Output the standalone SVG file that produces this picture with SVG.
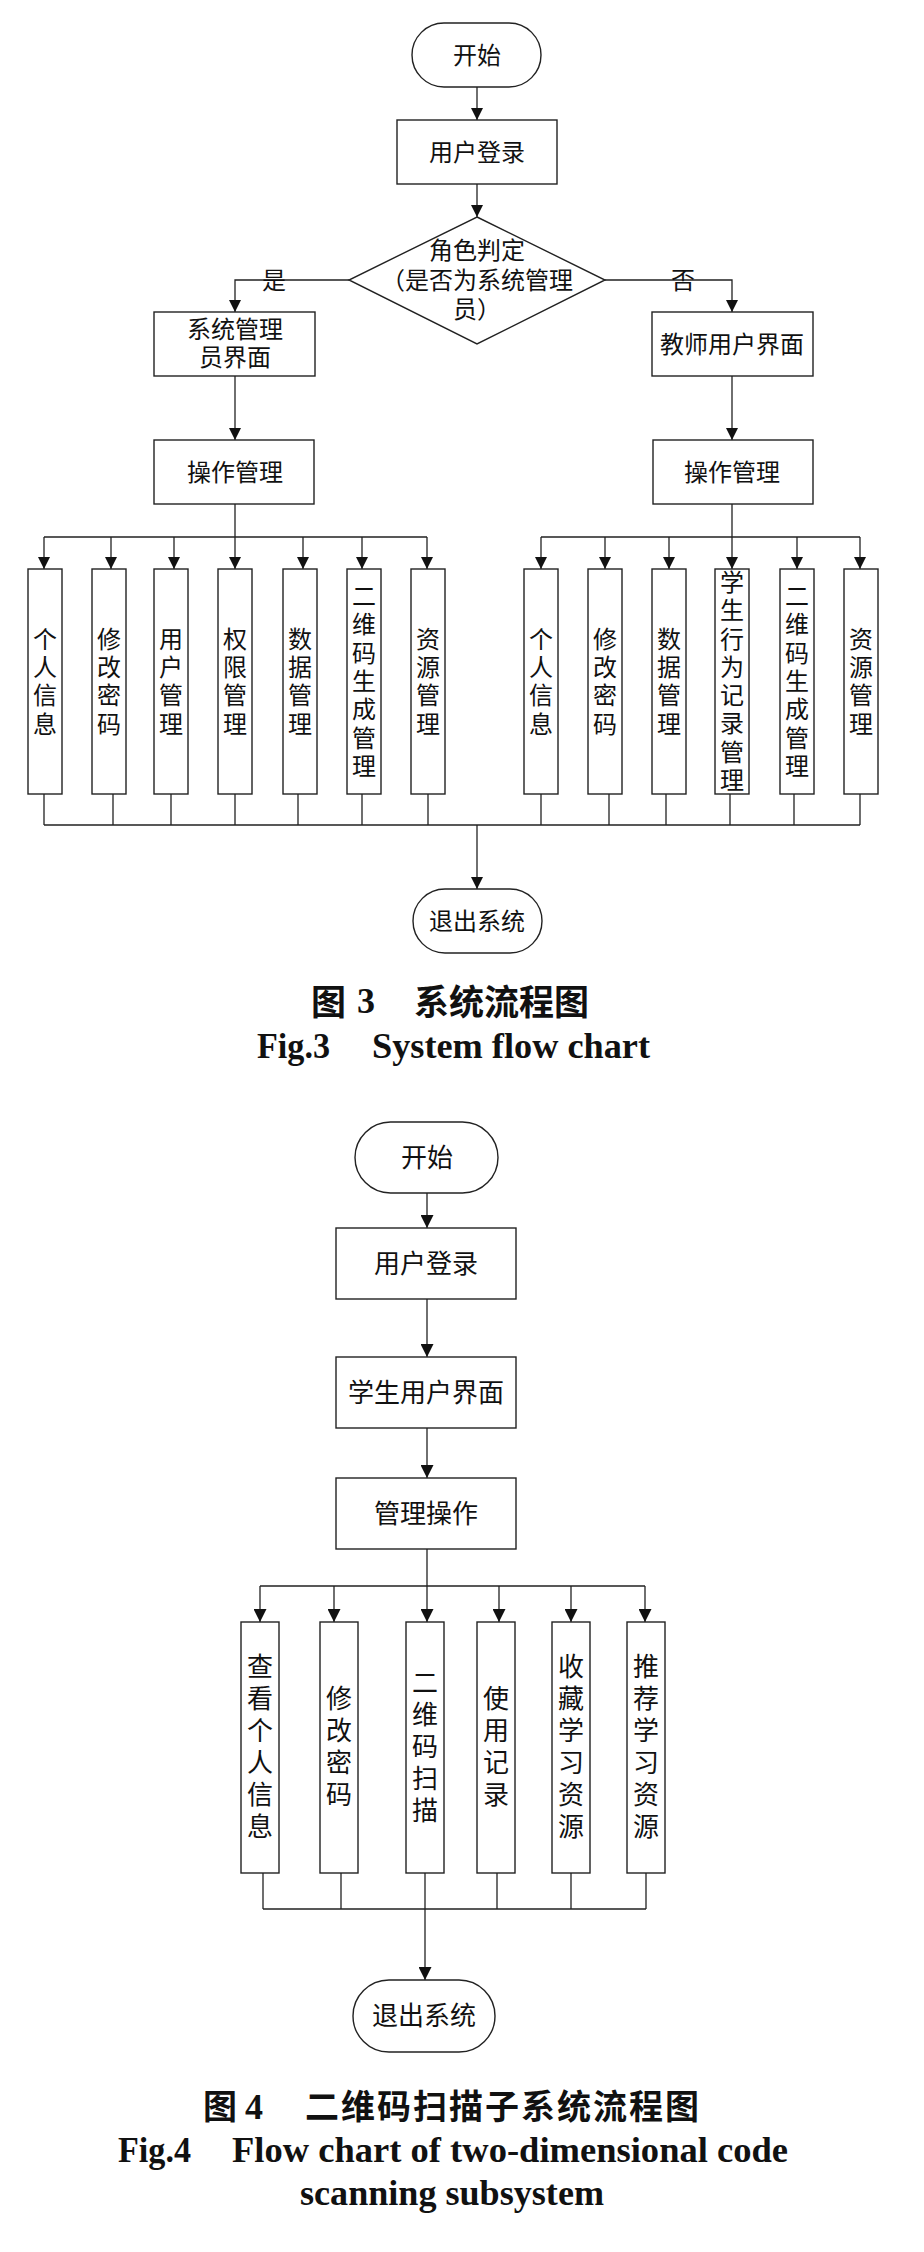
<svg xmlns="http://www.w3.org/2000/svg" width="924" height="2252" viewBox="0 0 924 2252">
<style>
.bg{fill:#ffffff}
.box{fill:#ffffff;stroke:#222222;stroke-width:1.4}
.ln{fill:none;stroke:#222222;stroke-width:1.3}
.t{font-family:'Liberation Sans','Noto Sans CJK SC',sans-serif;font-size:24px;fill:#111111;text-anchor:middle;dominant-baseline:central}
.t4{font-family:'Liberation Sans','Noto Sans CJK SC',sans-serif;font-size:26px;fill:#111111;text-anchor:middle;dominant-baseline:central}
.cap{font-family:'Liberation Sans','Noto Sans CJK SC',sans-serif;font-weight:700;fill:#111111;dominant-baseline:central}
.en{font-family:'Liberation Serif','Times New Roman',serif;font-weight:700;font-size:36px;fill:#111111}
</style>
<defs>
<marker id="arr" viewBox="0 0 12 12" markerWidth="12" markerHeight="12" refX="12" refY="6" orient="auto" markerUnits="userSpaceOnUse"><path d="M0,0 L12,6 L0,12 Z" fill="#111111"/></marker>
<marker id="arr4" viewBox="0 0 13 13" markerWidth="13" markerHeight="13" refX="13" refY="6.5" orient="auto" markerUnits="userSpaceOnUse"><path d="M0,0 L13,6.5 L0,13 Z" fill="#111111"/></marker>
</defs>
<rect class="bg" x="0" y="0" width="924" height="2252"/>

<!-- ===== Figure 3 connectors ===== -->
<g id="connectors-fig3">
<path class="ln" d="M477,87 V120" marker-end="url(#arr)"/>
<path class="ln" d="M477,184 V217" marker-end="url(#arr)"/>
<path class="ln" d="M349,280 H235 V312" marker-end="url(#arr)"/>
<path class="ln" d="M605,280 H732 V312" marker-end="url(#arr)"/>
<path class="ln" d="M235,376 V440" marker-end="url(#arr)"/>
<path class="ln" d="M732,376 V440" marker-end="url(#arr)"/>
<path class="ln" d="M235,504 V537 M44,537 H427 M732,504 V537 M541,537 H860"/>
<path class="ln" d="M44,537 V569" marker-end="url(#arr)"/>
<path class="ln" d="M111,537 V569" marker-end="url(#arr)"/>
<path class="ln" d="M174,537 V569" marker-end="url(#arr)"/>
<path class="ln" d="M235,537 V569" marker-end="url(#arr)"/>
<path class="ln" d="M303,537 V569" marker-end="url(#arr)"/>
<path class="ln" d="M362,537 V569" marker-end="url(#arr)"/>
<path class="ln" d="M427,537 V569" marker-end="url(#arr)"/>
<path class="ln" d="M541,537 V569" marker-end="url(#arr)"/>
<path class="ln" d="M605,537 V569" marker-end="url(#arr)"/>
<path class="ln" d="M669,537 V569" marker-end="url(#arr)"/>
<path class="ln" d="M732,537 V569" marker-end="url(#arr)"/>
<path class="ln" d="M797,537 V569" marker-end="url(#arr)"/>
<path class="ln" d="M860,537 V569" marker-end="url(#arr)"/>
<path class="ln" d="M44,794 V825 M113,794 V825 M171,794 V825 M235,794 V825 M298,794 V825 M362,794 V825 M428,794 V825 M541,794 V825 M609,794 V825 M666,794 V825 M730,794 V825 M794,794 V825 M860,794 V825 M44,825 H860"/>
<path class="ln" d="M477,825 V889" marker-end="url(#arr)"/>
<text class="t" x="274" y="280">是</text>
<text class="t" x="683" y="280">否</text>
</g>

<!-- ===== Figure 3 nodes ===== -->
<g id="f3-start"><rect class="box" x="412" y="23" width="129" height="64" rx="32" ry="32"/><text class="t" x="477" y="55">开始</text></g>
<g id="f3-login"><rect class="box" x="397" y="120" width="160" height="64"/><text class="t" x="477" y="152">用户登录</text></g>
<g id="f3-role"><polygon class="box" points="477,217 605,280 477,344 349,280"/><text class="t" x="477" y="250">角色判定</text><text class="t" x="477" y="280">（是否为系统管理</text><text class="t" x="477" y="309">员）</text></g>
<g id="f3-admin-ui"><rect class="box" x="154" y="312" width="161" height="64"/><text class="t" x="235" y="329.5">系统管理</text><text class="t" x="235" y="357.5">员界面</text></g>
<g id="f3-teacher-ui"><rect class="box" x="652" y="312" width="161" height="64"/><text class="t" x="732" y="344">教师用户界面</text></g>
<g id="f3-op-left"><rect class="box" x="154" y="440" width="160" height="64"/><text class="t" x="235" y="472">操作管理</text></g>
<g id="f3-op-right"><rect class="box" x="653" y="440" width="160" height="64"/><text class="t" x="732" y="472">操作管理</text></g>

<g id="f3-a1"><rect class="box" x="28" y="569" width="34" height="225"/><text class="t"><tspan x="45" y="638.5">个</tspan><tspan x="45" y="666.8">人</tspan><tspan x="45" y="695.2">信</tspan><tspan x="45" y="723.5">息</tspan></text></g>
<g id="f3-a2"><rect class="box" x="92" y="569" width="34" height="225"/><text class="t"><tspan x="109" y="638.5">修</tspan><tspan x="109" y="666.8">改</tspan><tspan x="109" y="695.2">密</tspan><tspan x="109" y="723.5">码</tspan></text></g>
<g id="f3-a3"><rect class="box" x="154" y="569" width="34" height="225"/><text class="t"><tspan x="171" y="638.5">用</tspan><tspan x="171" y="666.8">户</tspan><tspan x="171" y="695.2">管</tspan><tspan x="171" y="723.5">理</tspan></text></g>
<g id="f3-a4"><rect class="box" x="218" y="569" width="34" height="225"/><text class="t"><tspan x="235" y="638.5">权</tspan><tspan x="235" y="666.8">限</tspan><tspan x="235" y="695.2">管</tspan><tspan x="235" y="723.5">理</tspan></text></g>
<g id="f3-a5"><rect class="box" x="283" y="569" width="34" height="225"/><text class="t"><tspan x="300" y="638.5">数</tspan><tspan x="300" y="666.8">据</tspan><tspan x="300" y="695.2">管</tspan><tspan x="300" y="723.5">理</tspan></text></g>
<g id="f3-a6"><rect class="box" x="347" y="569" width="34" height="225"/><text class="t"><tspan x="364" y="596.1">二</tspan><tspan x="364" y="624.4">维</tspan><tspan x="364" y="652.7">码</tspan><tspan x="364" y="681">生</tspan><tspan x="364" y="709.3">成</tspan><tspan x="364" y="737.6">管</tspan><tspan x="364" y="765.9">理</tspan></text></g>
<g id="f3-a7"><rect class="box" x="411" y="569" width="34" height="225"/><text class="t"><tspan x="428" y="638.5">资</tspan><tspan x="428" y="666.8">源</tspan><tspan x="428" y="695.2">管</tspan><tspan x="428" y="723.5">理</tspan></text></g>

<g id="f3-b1"><rect class="box" x="524" y="569" width="34" height="225"/><text class="t"><tspan x="541" y="638.5">个</tspan><tspan x="541" y="666.8">人</tspan><tspan x="541" y="695.2">信</tspan><tspan x="541" y="723.5">息</tspan></text></g>
<g id="f3-b2"><rect class="box" x="588" y="569" width="34" height="225"/><text class="t"><tspan x="605" y="638.5">修</tspan><tspan x="605" y="666.8">改</tspan><tspan x="605" y="695.2">密</tspan><tspan x="605" y="723.5">码</tspan></text></g>
<g id="f3-b3"><rect class="box" x="652" y="569" width="34" height="225"/><text class="t"><tspan x="669" y="638.5">数</tspan><tspan x="669" y="666.8">据</tspan><tspan x="669" y="695.2">管</tspan><tspan x="669" y="723.5">理</tspan></text></g>
<g id="f3-b4"><rect class="box" x="715" y="569" width="34" height="225"/><text class="t"><tspan x="732" y="582">学</tspan><tspan x="732" y="610.3">生</tspan><tspan x="732" y="638.6">行</tspan><tspan x="732" y="666.9">为</tspan><tspan x="732" y="695.1">记</tspan><tspan x="732" y="723.4">录</tspan><tspan x="732" y="751.7">管</tspan><tspan x="732" y="780">理</tspan></text></g>
<g id="f3-b5"><rect class="box" x="780" y="569" width="34" height="225"/><text class="t"><tspan x="797" y="596.1">二</tspan><tspan x="797" y="624.4">维</tspan><tspan x="797" y="652.7">码</tspan><tspan x="797" y="681">生</tspan><tspan x="797" y="709.3">成</tspan><tspan x="797" y="737.6">管</tspan><tspan x="797" y="765.9">理</tspan></text></g>
<g id="f3-b6"><rect class="box" x="844" y="569" width="34" height="225"/><text class="t"><tspan x="861" y="638.5">资</tspan><tspan x="861" y="666.8">源</tspan><tspan x="861" y="695.2">管</tspan><tspan x="861" y="723.5">理</tspan></text></g>

<g id="f3-exit"><rect class="box" x="413" y="889" width="129" height="64" rx="32" ry="32"/><text class="t" x="477" y="921">退出系统</text></g>

<g id="caption-fig3">
<text class="cap" x="311" y="1002" font-size="35">图</text>
<text class="en" x="357" y="1013">3</text>
<text class="cap" x="414" y="1002" font-size="35">系统流程图</text>
<text class="en" x="257" y="1058" textLength="73" lengthAdjust="spacingAndGlyphs">Fig.3</text>
<text class="en" x="372" y="1058" textLength="278" lengthAdjust="spacingAndGlyphs">System flow chart</text>
</g>

<!-- ===== Figure 4 connectors ===== -->
<g id="connectors-fig4">
<path class="ln" d="M427,1193 V1228" marker-end="url(#arr4)"/>
<path class="ln" d="M427,1299 V1357" marker-end="url(#arr4)"/>
<path class="ln" d="M427,1428 V1478" marker-end="url(#arr4)"/>
<path class="ln" d="M427,1549 V1586 M260,1586 H645"/>
<path class="ln" d="M260,1586 V1622" marker-end="url(#arr4)"/>
<path class="ln" d="M334,1586 V1622" marker-end="url(#arr4)"/>
<path class="ln" d="M427,1586 V1622" marker-end="url(#arr4)"/>
<path class="ln" d="M499,1586 V1622" marker-end="url(#arr4)"/>
<path class="ln" d="M571,1586 V1622" marker-end="url(#arr4)"/>
<path class="ln" d="M645,1586 V1622" marker-end="url(#arr4)"/>
<path class="ln" d="M263,1873 V1909 M341,1873 V1909 M425,1873 V1909 M497,1873 V1909 M571,1873 V1909 M646,1873 V1909 M263,1909 H646"/>
<path class="ln" d="M425,1909 V1980" marker-end="url(#arr4)"/>
</g>

<!-- ===== Figure 4 nodes ===== -->
<g id="f4-start"><rect class="box" x="355" y="1122" width="143" height="71" rx="35.5" ry="35.5"/><text class="t4" x="427" y="1157.5">开始</text></g>
<g id="f4-login"><rect class="box" x="336" y="1228" width="180" height="71"/><text class="t4" x="426" y="1263.5">用户登录</text></g>
<g id="f4-student-ui"><rect class="box" x="336" y="1357" width="180" height="71"/><text class="t4" x="426" y="1392.5">学生用户界面</text></g>
<g id="f4-op"><rect class="box" x="336" y="1478" width="180" height="71"/><text class="t4" x="426" y="1513.5">管理操作</text></g>

<g id="f4-c1"><rect class="box" x="241" y="1622" width="38" height="251"/><text class="t4"><tspan x="260" y="1667">查</tspan><tspan x="260" y="1699">看</tspan><tspan x="260" y="1731">个</tspan><tspan x="260" y="1763">人</tspan><tspan x="260" y="1795">信</tspan><tspan x="260" y="1827">息</tspan></text></g>
<g id="f4-c2"><rect class="box" x="320" y="1622" width="38" height="251"/><text class="t4"><tspan x="339" y="1699">修</tspan><tspan x="339" y="1731">改</tspan><tspan x="339" y="1763">密</tspan><tspan x="339" y="1795">码</tspan></text></g>
<g id="f4-c3"><rect class="box" x="406" y="1622" width="38" height="251"/><text class="t4"><tspan x="425" y="1683">二</tspan><tspan x="425" y="1715">维</tspan><tspan x="425" y="1747">码</tspan><tspan x="425" y="1779">扫</tspan><tspan x="425" y="1811">描</tspan></text></g>
<g id="f4-c4"><rect class="box" x="477" y="1622" width="38" height="251"/><text class="t4"><tspan x="496" y="1699">使</tspan><tspan x="496" y="1731">用</tspan><tspan x="496" y="1763">记</tspan><tspan x="496" y="1795">录</tspan></text></g>
<g id="f4-c5"><rect class="box" x="552" y="1622" width="38" height="251"/><text class="t4"><tspan x="571" y="1667">收</tspan><tspan x="571" y="1699">藏</tspan><tspan x="571" y="1731">学</tspan><tspan x="571" y="1763">习</tspan><tspan x="571" y="1795">资</tspan><tspan x="571" y="1827">源</tspan></text></g>
<g id="f4-c6"><rect class="box" x="627" y="1622" width="38" height="251"/><text class="t4"><tspan x="646" y="1667">推</tspan><tspan x="646" y="1699">荐</tspan><tspan x="646" y="1731">学</tspan><tspan x="646" y="1763">习</tspan><tspan x="646" y="1795">资</tspan><tspan x="646" y="1827">源</tspan></text></g>

<g id="f4-exit"><rect class="box" x="353" y="1980" width="142" height="72" rx="36" ry="36"/><text class="t4" x="424" y="2016">退出系统</text></g>

<g id="caption-fig4">
<text class="cap" x="203" y="2107" font-size="34">图</text>
<text class="en" x="245" y="2119">4</text>
<text class="cap" x="305" y="2107" font-size="34" letter-spacing="2">二维码扫描子系统流程图</text>
<text class="en" x="118" y="2162" textLength="73" lengthAdjust="spacingAndGlyphs">Fig.4</text>
<text class="en" x="232" y="2162" textLength="556" lengthAdjust="spacingAndGlyphs">Flow chart of two-dimensional code</text>
<text class="en" x="300" y="2205" textLength="304" lengthAdjust="spacingAndGlyphs">scanning subsystem</text>
</g>
</svg>
